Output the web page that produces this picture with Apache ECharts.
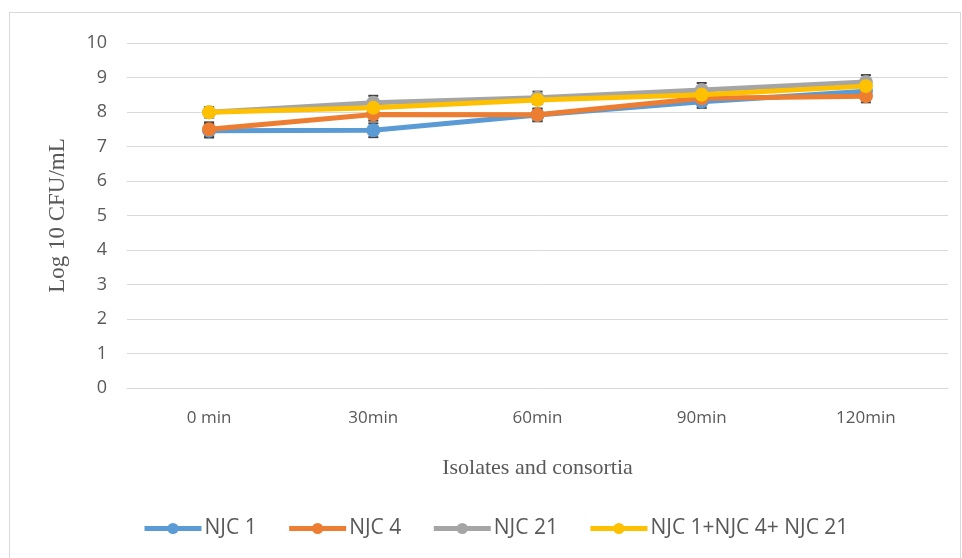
<!DOCTYPE html>
<html><head><meta charset="utf-8">
<script src="https://cdn.jsdelivr.net/npm/echarts@6/dist/echarts.min.js"></script>
<style>html,body{margin:0;padding:0;background:#fff}#c{width:962px;height:558px}
#frame{position:absolute;left:9px;top:12px;width:950px;height:560px;border:1px solid #d9d9d9;pointer-events:none}</style>
</head><body><div id="c"></div><div id="frame"></div>
<script>
const categories = ['0 min', '30min', '60min', '90min', '120min'];
const seriesNames = ['NJC 1', 'NJC 4', 'NJC 21', 'NJC 1+NJC 4+ NJC 21'];
const njc1 = [7.46, 7.47, 7.91, 8.30, 8.60];
const njc4 = [7.50, 7.93, 7.92, 8.40, 8.46];
const njc21 = [7.99, 8.27, 8.41, 8.64, 8.87];
const consortium = [7.99, 8.12, 8.35, 8.50, 8.75];
const errNjc1 = [0.2, 0.2, 0.18, 0.18, 0.15];
const errNjc4 = [0.2, 0.18, 0.18, 0.15, 0.18];
const errNjc21 = [0.15, 0.2, 0.18, 0.2, 0.2];
const errConsortium = [0.12, 0.12, 0.12, 0.12, 0.12];
const colors = ['#5b9bd5', '#ed7d31', '#a5a5a5', '#ffc000'];

const values = [njc1, njc4, njc21, consortium];
const errs = [errNjc1, errNjc4, errNjc21, errConsortium];

const chart = echarts.init(document.getElementById('c'));
const series = [];
values.forEach((v, i) => {
  series.push({
    type: 'custom', name: seriesNames[i] + ' err', silent: true, z: 1,
    data: v.map((y, k) => [k, y - errs[i][k], y + errs[i][k]]),
    renderItem: (params, api) => {
      const lo = api.coord([api.value(0), api.value(1)]);
      const hi = api.coord([api.value(0), api.value(2)]);
      const w = 5;
      return { type: 'group', children: [
        { type: 'line', shape: { x1: lo[0], y1: lo[1], x2: hi[0], y2: hi[1] }, style: { stroke: '#404040', lineWidth: 2 } },
        { type: 'line', shape: { x1: lo[0]-w, y1: lo[1], x2: lo[0]+w, y2: lo[1] }, style: { stroke: '#404040', lineWidth: 2 } },
        { type: 'line', shape: { x1: hi[0]-w, y1: hi[1], x2: hi[0]+w, y2: hi[1] }, style: { stroke: '#404040', lineWidth: 2 } }
      ]};
    }
  });
});
values.forEach((v, i) => {
  series.push({
    type: 'line', name: seriesNames[i], data: v, z: 3 + i,
    symbol: 'circle', symbolSize: 14,
    lineStyle: { width: 5, color: colors[i] },
    itemStyle: { color: colors[i] }
  });
});

chart.setOption({
  animation: false,
  color: colors,
  grid: { left: 127, right: 14, top: 43, bottom: 170 },
  legend: {
    data: seriesNames, bottom: 14, left: 137,
    itemWidth: 57, itemHeight: 14, itemGap: 30,
    lineStyle: { width: 5 },
    textStyle: { fontFamily: 'Open Sans', fontSize: 21, color: '#595959', padding: [0, 0, 0, -2] }
  },
  xAxis: {
    type: 'category', data: categories, boundaryGap: true,
    axisLine: { lineStyle: { color: '#d9d9d9', width: 1 } },
    axisTick: { show: false },
    axisLabel: { fontFamily: 'Open Sans', fontSize: 17, color: '#595959', margin: 22 },
    name: 'Isolates and consortia', nameLocation: 'middle', nameGap: 69,
    nameTextStyle: { fontFamily: 'Liberation Serif', fontSize: 22, color: '#595959' }
  },
  yAxis: {
    type: 'value', min: 0, max: 10, interval: 1,
    axisLine: { show: false }, axisTick: { show: false },
    splitLine: { lineStyle: { color: '#d9d9d9', width: 1 } },
    axisLabel: { fontFamily: 'Open Sans', fontSize: 18, color: '#595959', margin: 20 },
    name: 'Log 10 CFU/mL', nameLocation: 'middle', nameGap: 58, nameRotate: 90,
    nameTextStyle: { fontFamily: 'Liberation Serif', fontSize: 23, color: '#595959' }
  },
  series: series
});
</script></body></html>
